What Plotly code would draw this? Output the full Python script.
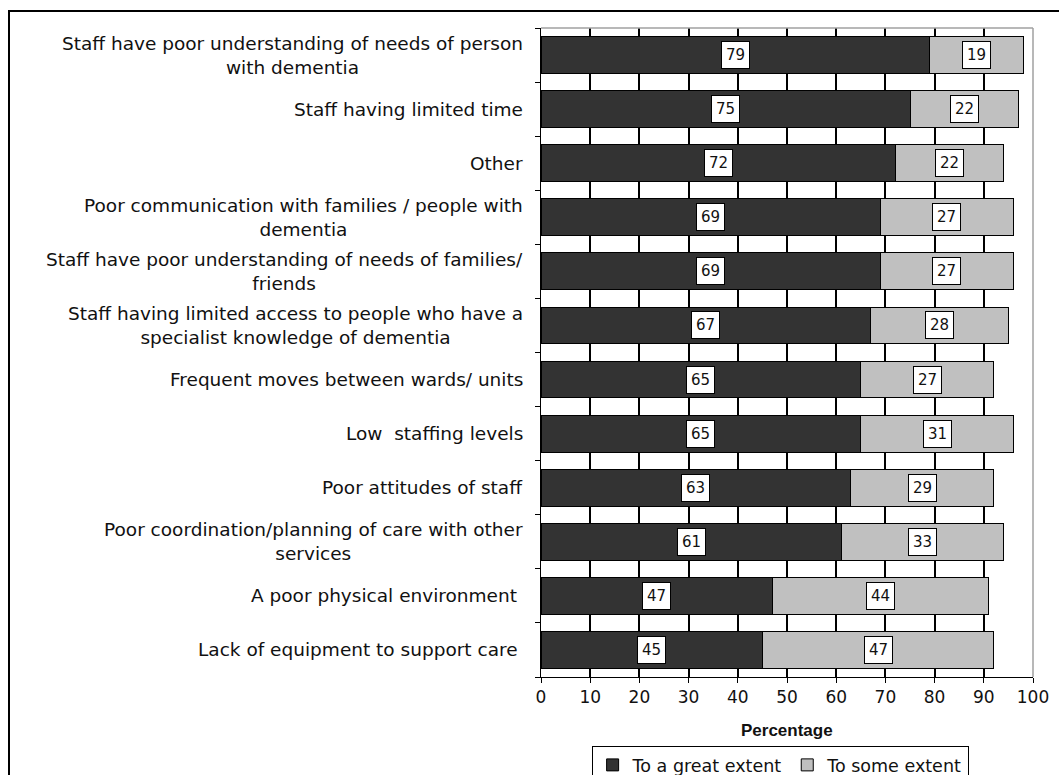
import plotly.graph_objects as go

categories = [
    "Staff have poor understanding of needs of person<br>with dementia",
    "Staff having limited time",
    "Other",
    "Poor communication with families / people with<br>dementia",
    "Staff have poor understanding of needs of families/<br>friends",
    "Staff having limited access to people who have a<br>specialist knowledge of dementia",
    "Frequent moves between wards/ units",
    "Low  staffing levels",
    "Poor attitudes of staff",
    "Poor coordination/planning of care with other<br>services",
    "A poor physical environment\u00a0",
    "Lack of equipment to support care\u00a0",
]
great_extent = [79, 75, 72, 69, 69, 67, 65, 65, 63, 61, 47, 45]
some_extent = [19, 22, 22, 27, 27, 28, 27, 31, 29, 33, 44, 47]
x_ticks = [0, 10, 20, 30, 40, 50, 60, 70, 80, 90, 100]

FONT = "DejaVu Sans"

n = len(categories)
positions = list(range(n))
boundaries = [i - 0.5 for i in range(n + 1)]

fig = go.Figure()
fig.add_trace(go.Bar(
    y=positions, x=great_extent, orientation="h", name="To a great extent",
    marker=dict(color="#333333", line=dict(color="black", width=1)),
))
fig.add_trace(go.Bar(
    y=positions, x=some_extent, orientation="h", name="To some extent",
    marker=dict(color="#c0c0c0", line=dict(color="black", width=1)),
))

annotations = []
for pos, cat, a, b in zip(positions, categories, great_extent, some_extent):
    for xv, val in ((a / 2, a), (a + b / 2, b)):
        annotations.append(dict(
            x=xv, y=pos, xref="x", yref="y", text=str(val), showarrow=False,
            font=dict(family=FONT, size=15, color="#111111"),
            bgcolor="white", bordercolor="black", borderwidth=1, borderpad=4,
        ))
    annotations.append(dict(
        x=-0.0325, y=pos, xref="paper", yref="y", text=cat.replace("  ", "\u00a0 "),
        showarrow=False, xanchor="right", yanchor="middle", align="center",
        font=dict(family=FONT, size=18.5, color="#111111"),
    ))

annotations.append(dict(
    x=0.5, y=-0.0832, xref="paper", yref="paper", text="<b>Percentage</b>",
    showarrow=False, xanchor="center", yanchor="middle",
    font=dict(family="Liberation Sans", size=17, color="#111111"),
))

shapes = [
    dict(type="line", xref="paper", yref="paper", x0=0, x1=1, y0=1, y1=1,
         line=dict(color="#a0a0a0", width=1.5), layer="above"),
    dict(type="line", xref="paper", yref="paper", x0=1, x1=1, y0=0, y1=1,
         line=dict(color="#a0a0a0", width=1.5), layer="above"),
    dict(type="rect", xref="paper", yref="paper", x0=-1.0813, x1=1.2, y0=1.0262, y1=-0.3,
         line=dict(color="black", width=2), fillcolor="rgba(0,0,0,0)", layer="above"),
]

fig.update_layout(
    barmode="stack",
    bargap=0.32,
    width=1059, height=775,
    margin=dict(l=541, r=26, t=28, b=98, autoexpand=False),
    paper_bgcolor="white", plot_bgcolor="white",
    font=dict(family=FONT, size=17, color="#111111"),
    showlegend=True,
    legend=dict(
        orientation="h", x=0.486, xanchor="center",
        yref="container", y=0.0374, yanchor="top",
        bordercolor="black", borderwidth=1, bgcolor="white",
        font=dict(family=FONT, size=17.5, color="#111111"),
        traceorder="normal", itemwidth=30, tracegroupgap=0,
    ),
    xaxis=dict(
        range=[0, 100], tickvals=x_ticks, ticks="outside", ticklen=5, tickcolor="black",
        showline=True, linecolor="black", linewidth=1,
        showgrid=True, gridcolor="#000000", gridwidth=2, zeroline=False,
        tickfont=dict(family=FONT, size=17, color="#111111"),
    ),
    yaxis=dict(
        range=[boundaries[-1], boundaries[0]], tickvals=boundaries,
        ticks="outside", ticklen=5, tickcolor="black", showticklabels=False,
        showline=True, linecolor="black", linewidth=1, showgrid=False, zeroline=False,
    ),
    annotations=annotations,
    shapes=shapes,
)

fig.write_html("out.html")
